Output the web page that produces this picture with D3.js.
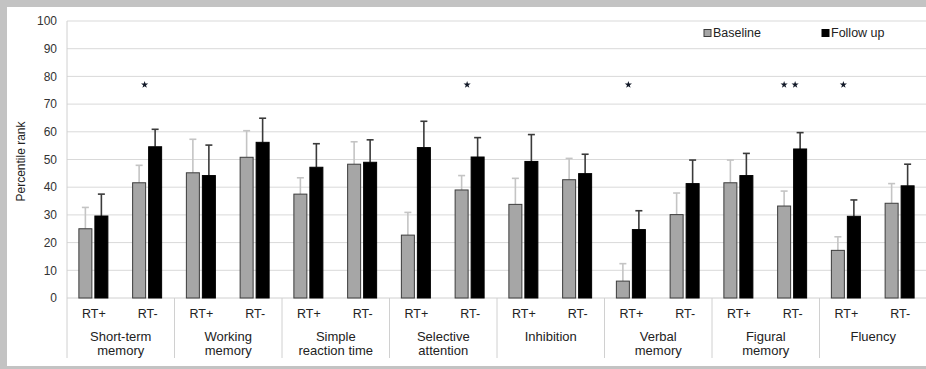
<!DOCTYPE html>
<html lang="en">
<head>
<meta charset="UTF-8">
<title>Percentile rank by domain</title>
<script src="https://d3js.org/d3.v7.min.js"></script>
<style>
    body { margin: 0; background: #c3c3c3; }
    svg { display: block; font-family: "Liberation Sans", Arial, sans-serif; }
</style>
</head>
<body>
<div id="chart"></div>
<script>
    // domains (two-line labels) and the two subgroups inside each
    const domains = ["Short-term|memory", "Working|memory", "Simple|reaction time", "Selective|attention",
        "Inhibition", "Verbal|memory", "Figural|memory", "Fluency"];
    const groups = ["RT+", "RT-"];
    const series = ["Baseline", "Follow up"];
    const yTicks = [0, 10, 20, 30, 40, 50, 60, 70, 80, 90, 100];

    // values per domain: [RT+, RT-]
    const baseline = [[25, 41.6], [45.2, 50.8], [37.5, 48.3], [22.7, 39], [33.8, 42.7], [6.1, 30.1], [41.6, 33.2], [17.2, 34.2]];
    const baselineErr = [[32.7, 47.9], [57.3, 60.4], [43.4, 56.4], [30.9, 44.2], [43.2, 50.4], [12.4, 37.9], [49.8, 38.6], [22.1, 41.3]];
    const followUp = [[29.6, 54.6], [44.2, 56.2], [47.2, 49], [54.3, 50.9], [49.3, 44.9], [24.7, 41.3], [44.2, 53.8], [29.5, 40.5]];
    const followUpErr = [[37.5, 60.9], [55.2, 64.9], [55.7, 57.1], [63.8, 57.9], [59, 51.9], [31.5, 49.8], [52.2, 59.7], [35.4, 48.3]];

    // significance stars: domain index, group, count, value where drawn
    const stars = [
        { d: 0, g: "RT-", n: 1, v: 77 },
        { d: 3, g: "RT-", n: 1, v: 77 },
        { d: 5, g: "RT+", n: 1, v: 77 },
        { d: 6, g: "RT-", n: 2, v: 77 },
        { d: 7, g: "RT+", n: 1, v: 77 }
    ];

    const W = 926, H = 369;
    const svg = d3.select("#chart").append("svg").attr("width", W).attr("height", H);

    // white panel inside the grey frame
    svg.append("rect").attr("x", 7).attr("y", 7).attr("width", W - 7).attr("height", H - 10).attr("fill", "#fff");

    const x0 = d3.scaleBand().domain(d3.range(domains.length)).range([67, 927]);
    const x1 = d3.scaleBand().domain(groups).range([0, x0.bandwidth()]);
    const y = d3.scaleLinear().domain([0, 100]).range([298, 21]);

    // gridlines
    svg.append("g").selectAll("line").data(yTicks.filter(t => t > 0)).join("line")
        .attr("x1", 67).attr("x2", W).attr("y1", d => y(d)).attr("y2", d => y(d))
        .attr("stroke", "#d9d9d9").attr("stroke-width", 1);

    // y tick labels
    svg.append("g").selectAll("text").data(yTicks).join("text")
        .attr("x", 57).attr("y", d => y(d)).attr("dy", "0.35em")
        .attr("text-anchor", "end").attr("font-size", 12).attr("fill", "#333")
        .text(d => d);

    svg.append("text")
        .attr("transform", `translate(25,${y(50) + 2}) rotate(-90)`)
        .attr("text-anchor", "middle").attr("font-size", 12).attr("fill", "#222")
        .text("Percentile rank");

    // left axis line and baseline
    svg.append("line").attr("x1", 67).attr("x2", 67).attr("y1", y(100)).attr("y2", 358).attr("stroke", "#d0d0d0");
    svg.append("line").attr("x1", 67).attr("x2", W).attr("y1", y(0)).attr("y2", y(0)).attr("stroke", "#d0d0d0");

    // build flat rows
    const rows = [];
    domains.forEach((dm, di) => {
        groups.forEach((g, gi) => {
            rows.push({ di, g, s: 0, v: baseline[di][gi], e: baselineErr[di][gi] });
            rows.push({ di, g, s: 1, v: followUp[di][gi], e: followUpErr[di][gi] });
        });
    });

    const barW = 13;
    const center = d => x0(d.di) + x1(d.g) + x1.bandwidth() / 2 - 1;
    const barX = d => d.s === 0 ? center(d) - barW - 1 : center(d) + 2;

    // error bars (upper only)
    const eb = svg.append("g").selectAll("g").data(rows).join("g")
        .attr("stroke", d => d.s === 0 ? "#c4c4c4" : "#3a3a3a").attr("stroke-width", 1.6);
    eb.append("line")
        .attr("x1", d => barX(d) + barW / 2).attr("x2", d => barX(d) + barW / 2)
        .attr("y1", d => y(d.v)).attr("y2", d => y(d.e));
    eb.append("line")
        .attr("x1", d => barX(d) + barW / 2 - 3.5).attr("x2", d => barX(d) + barW / 2 + 3.5)
        .attr("y1", d => y(d.e)).attr("y2", d => y(d.e));

    // bars
    svg.append("g").selectAll("rect").data(rows).join("rect")
        .attr("x", d => barX(d)).attr("width", barW)
        .attr("y", d => y(d.v)).attr("height", d => y(0) - y(d.v))
        .attr("fill", d => d.s === 0 ? "#a6a6a6" : "#000")
        .attr("stroke", d => d.s === 0 ? "#3c3c3c" : "#000").attr("stroke-width", 1);

    // group labels
    svg.append("g").selectAll("text").data(rows.filter(r => r.s === 0)).join("text")
        .attr("x", d => x0(d.di) + x1(d.g) + x1.bandwidth() / 2)
        .attr("y", 318).attr("text-anchor", "middle")
        .attr("font-size", 12.5).attr("fill", "#222")
        .text(d => d.g);

    // domain labels
    const dl = svg.append("g").selectAll("text").data(domains).join("text")
        .attr("x", (d, i) => x0(i) + x0.bandwidth() / 2)
        .attr("y", 341).attr("text-anchor", "middle")
        .attr("font-size", 13).attr("fill", "#222");
    dl.selectAll("tspan").data(d => d.split("|")).join("tspan")
        .attr("x", function () { return d3.select(this.parentNode).attr("x"); })
        .attr("dy", (d, i) => i === 0 ? 0 : 13.5)
        .text(d => d);

    // dividers between domains
    svg.append("g").selectAll("line").data(d3.range(1, domains.length)).join("line")
        .attr("x1", i => x0(i)).attr("x2", i => x0(i))
        .attr("y1", y(0)).attr("y2", 358).attr("stroke", "#d0d0d0");

    // stars
    const starRows = [];
    stars.forEach(s => {
        for (let k = 0; k < s.n; k++) starRows.push({ ...s, k });
    });
    svg.append("g").selectAll("path").data(starRows).join("path")
        .attr("d", d3.symbol(d3.symbolStar, 16))
        .attr("transform", d => {
            const cx = x0(d.d) + x1(d.g) + x1.bandwidth() / 2 + (d.k - (d.n - 1) / 2) * 11 - 3;
            return `translate(${cx},${y(d.v)})`;
        })
        .attr("fill", "#111827");

    // legend
    const legend = svg.append("g").selectAll("g").data(series).join("g")
        .attr("transform", (d, i) => `translate(${i === 0 ? 704 : 822},33)`);
    legend.append("rect").attr("x", 0).attr("y", -3.5).attr("width", 7).attr("height", 7)
        .attr("fill", (d, i) => i === 0 ? "#a6a6a6" : "#000")
        .attr("stroke", (d, i) => i === 0 ? "#3c3c3c" : "#000");
    legend.append("text").attr("x", 9).attr("y", 0).attr("dy", "0.35em")
        .attr("font-size", 12.5).attr("fill", "#222").text(d => d);
</script>
</body>
</html>
